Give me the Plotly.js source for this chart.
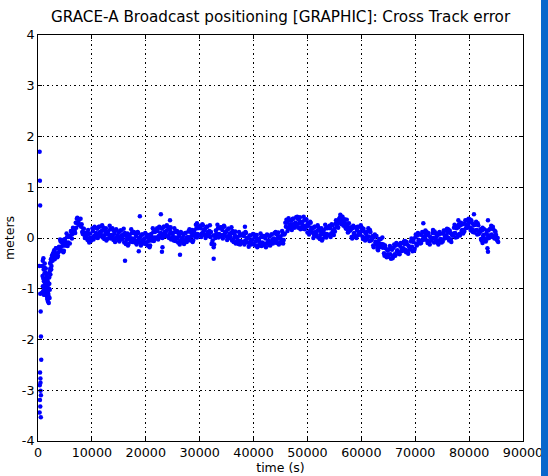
<!DOCTYPE html>
<html>
<head>
<meta charset="utf-8">
<script src="https://cdn.plot.ly/plotly-3.0.1.min.js"></script>
<style>html,body{margin:0;padding:0;overflow:hidden;}body{background:linear-gradient(to right,#fff 0,#fff 541px,#0867cc 541px,#0867cc 548px);}#wrap{position:relative;width:548px;height:476px;}#chart{width:548px;height:476px;}#bar{position:absolute;left:541px;top:0;width:7px;height:476px;background:#0867cc;z-index:10;}</style>
</head>
<body>
<div id="wrap"><div id="chart"></div><div id="bar"></div></div>
<script>
// Early convergence points (time s, cross-track error m)
var earlyT = [300,350,400,250,420,500,550,600,380,450,320,480,360,420,300,520,460,540,
  800,850,900,950,1000,1050,1100,1150,1200,1250,1300,1350,1400,1450,1500,1550,1600,1650,1700,1750,1800,1850,1900,1950,2000,2050,2100,2150,2200,2250,2300,2400,2500,2600,2700,2800,2900,
  750,880,980,1080,1180,1280,1380,1480,1580,1680,1780,1880,1980,2080,2180,2280,2350,2450,2550,2650,2750,2850,2950];
var earlyE = [1.70,1.13,0.64,-0.55,-1.10,-1.45,-1.94,-2.40,-2.65,-2.77,-2.90,-3.01,-3.19,-3.32,-3.44,-3.53,-2.85,-3.10,
  -0.55,-0.75,-0.95,-1.05,-0.40,-0.62,-0.85,-1.00,-0.70,-0.50,-0.90,-1.12,-0.80,-0.60,-1.05,-0.95,-0.75,-1.15,-1.20,-0.98,-0.85,-1.25,-1.10,-0.70,-1.28,-1.00,-0.90,-1.18,-0.65,-0.50,-0.72,-0.42,-0.55,-0.35,-0.45,-0.30,-0.38,
  -1.08,-0.45,-0.80,-1.12,-0.58,-0.98,-0.68,-0.88,-1.10,-0.82,-1.05,-0.92,-1.15,-0.78,-1.02,-0.60,-0.48,-0.62,-0.40,-0.44,-0.32,-0.40,-0.28];

// Main time series, first sample set
var mainT = [
 3000,3200,3400,3600,3800, 4000,4200,4400,4600,4800, 5000,5200,5400,5600,5800, 6000,6200,6400,6600,6800,
 7000,7200,7400,7600,7800, 8000,8200,8400,8600,8800, 9000,9200,9400,9600,9800, 10000,10200,10400,10600,10800,
 11000,11200,11400,11600,11800, 12000,12200,12400,12600,12800, 13000,13200,13400,13600,13800, 14000,14200,14400,14600,14800,
 15000,15200,15400,15600,15800, 16000,16200,16400,16600,16800, 17000,17200,17400,17600,17800, 18000,18200,18400,18600,18800,
 19000,19200,19400,19600,19800, 20000,20200,20400,20600,20800, 21000,21200,21400,21600,21800, 22000,22200,22400,22600,22800,
 23000,23200,23400,23600,23800, 24000,24200,24400,24600,24800, 25000,25200,25400,25600,25800, 26000,26200,26400,26600,26800,
 27000,27200,27400,27600,27800, 28000,28200,28400,28600,28800, 29000,29200,29400,29600,29800, 30000,30200,30400,30600,30800,
 31000,31200,31400,31600,31800, 32000,32200,32400,32600,32800, 33000,33200,33400,33600,33800, 34000,34200,34400,34600,34800,
 35000,35200,35400,35600,35800, 36000,36200,36400,36600,36800, 37000,37200,37400,37600,37800, 38000,38200,38400,38600,38800,
 39000,39200,39400,39600,39800, 40000,40200,40400,40600,40800, 41000,41200,41400,41600,41800, 42000,42200,42400,42600,42800,
 43000,43200,43400,43600,43800, 44000,44200,44400,44600,44800, 45000,45200,45400,45600,45800, 46000,46200,46400,46600,46800,
 47000,47200,47400,47600,47800, 48000,48200,48400,48600,48800, 49000,49200,49400,49600,49800, 50000,50200,50400,50600,50800,
 51000,51200,51400,51600,51800, 52000,52200,52400,52600,52800, 53000,53200,53400,53600,53800, 54000,54200,54400,54600,54800,
 55000,55200,55400,55600,55800, 56000,56200,56400,56600,56800, 57000,57200,57400,57600,57800, 58000,58200,58400,58600,58800,
 59000,59200,59400,59600,59800, 60000,60200,60400,60600,60800, 61000,61200,61400,61600,61800, 62000,62200,62400,62600,62800,
 63000,63200,63400,63600,63800, 64000,64200,64400,64600,64800, 65000,65200,65400,65600,65800, 66000,66200,66400,66600,66800,
 67000,67200,67400,67600,67800, 68000,68200,68400,68600,68800, 69000,69200,69400,69600,69800, 70000,70200,70400,70600,70800,
 71000,71200,71400,71600,71800, 72000,72200,72400,72600,72800, 73000,73200,73400,73600,73800, 74000,74200,74400,74600,74800,
 75000,75200,75400,75600,75800, 76000,76200,76400,76600,76800, 77000,77200,77400,77600,77800, 78000,78200,78400,78600,78800,
 79000,79200,79400,79600,79800, 80000,80200,80400,80600,80800, 81000,81200,81400,81600,81800, 82000,82200,82400,82600,82800,
 83000,83200,83400,83600,83800, 84000,84200,84400,84600,84800, 85000,85200,85400
];
var mainE = [
 -0.24,-0.35,-0.20,-0.38,-0.28, -0.22,-0.07,-0.17,-0.04,-0.25, -0.02,-0.15,0.02,-0.09,0.04, 0.02,0.10,0.08,0.18,0.15,
 0.30,0.38,0.28,0.36,0.25, 0.22,0.12,0.18,0.06,0.10, 0.05,-0.04,0.08,0.00,-0.06, 0.01,0.14,0.04,0.20,0.10,
 0.18,0.07,0.22,0.04,0.14, 0.01,0.16,0.06,0.19,-0.02, 0.13,0.00,0.17,0.06,0.19, -0.04,0.09,-0.01,0.15,0.05,
 0.11,0.00,0.15,-0.03,0.07, -0.09,0.06,-0.04,0.09,-0.12, 0.06,-0.07,0.10,-0.01,0.12, -0.09,0.04,-0.06,0.10,0.00,
 0.03,-0.08,0.07,-0.11,-0.01, -0.12,0.03,-0.07,0.06,-0.15, 0.08,-0.05,0.12,0.01,0.14, 0.01,0.14,0.04,0.20,0.10,
 0.18,0.07,0.22,0.04,0.14, 0.03,0.18,0.08,0.21,0.00, 0.08,-0.05,0.12,0.01,0.14, -0.09,0.04,-0.06,0.10,0.00,
 0.06,-0.05,0.10,-0.08,0.02, -0.02,0.13,0.03,0.16,-0.05, 0.15,0.02,0.19,0.08,0.21, 0.06,0.19,0.09,0.25,0.15,
 0.18,0.07,0.22,0.04,0.14, 0.02,-0.12,-0.05,-0.18,0.05, 0.15,0.02,0.19,0.08,0.21, 0.03,0.16,0.06,0.22,0.12,
 0.14,0.03,0.18,0.00,0.10, -0.05,0.10,0.00,0.13,-0.08, 0.01,-0.12,0.05,-0.06,0.07, -0.09,0.04,-0.06,0.10,0.00,
 0.01,-0.10,0.05,-0.13,-0.03, -0.12,0.03,-0.07,0.06,-0.15, -0.02,-0.15,0.02,-0.09,0.04, -0.14,-0.01,-0.11,0.05,-0.05,
 0.03,-0.08,0.07,-0.11,-0.01, -0.07,0.08,-0.02,0.11,-0.10, 0.03,-0.10,0.07,-0.04,0.09, 0.22,0.30,0.20,0.35,0.27,
 0.34,0.23,0.38,0.20,0.30, 0.23,0.38,0.28,0.41,0.20, 0.31,0.18,0.35,0.24,0.37, 0.11,0.24,0.14,0.30,0.20,
 0.18,0.07,0.22,0.04,0.14, 0.01,0.16,0.06,0.19,-0.02, 0.15,0.02,0.19,0.08,0.21, 0.06,0.19,0.09,0.25,0.15,
 0.18,0.28,0.22,0.33,0.30, 0.40,0.33,0.42,0.36,0.30, 0.28,0.18,0.24,0.12,0.20, 0.15,0.02,0.19,0.08,0.21,
 0.03,0.16,0.06,0.22,0.12, 0.14,0.03,0.18,0.00,0.10, -0.02,0.13,0.03,0.16,-0.05, -0.02,-0.15,0.02,-0.09,0.04,
 -0.21,-0.08,-0.18,-0.02,-0.12, -0.19,-0.30,-0.15,-0.33,-0.23, -0.37,-0.22,-0.32,-0.19,-0.40, -0.19,-0.32,-0.15,-0.26,-0.13,
 -0.29,-0.16,-0.26,-0.10,-0.20, -0.12,-0.23,-0.08,-0.26,-0.16, -0.22,-0.07,-0.17,-0.04,-0.25, 0.01,-0.12,0.05,-0.06,0.07,
 -0.07,0.06,-0.04,0.12,0.02, 0.06,-0.05,0.10,-0.08,0.02, -0.05,0.10,0.00,0.13,-0.08, 0.03,-0.10,0.07,-0.04,0.09,
 -0.04,0.09,-0.01,0.15,0.05, 0.11,0.00,0.15,-0.03,0.07, 0.05,0.20,0.10,0.23,0.02, 0.21,0.08,0.25,0.14,0.27,
 0.16,0.29,0.19,0.35,0.25, 0.31,0.20,0.35,0.17,0.27, 0.11,0.26,0.16,0.29,0.08, 0.11,-0.02,0.15,0.04,0.17,
 -0.04,0.09,-0.01,0.15,0.05, 0.18,0.07,0.22,0.04,0.14, 0.06,-0.05,-0.08
];

// Main time series, second (interleaved) sample set
var mainT2 = [
 3100,3300,3500,3700,3900, 4100,4300,4500,4700,4900, 5100,5300,5500,5700,5900, 6100,6300,6500,6700,6900,
 7100,7300,7500,7700,7900, 8100,8300,8500,8700,8900, 9100,9300,9500,9700,9900, 10100,10300,10500,10700,10900,
 11100,11300,11500,11700,11900, 12100,12300,12500,12700,12900, 13100,13300,13500,13700,13900, 14100,14300,14500,14700,14900,
 15100,15300,15500,15700,15900, 16100,16300,16500,16700,16900, 17100,17300,17500,17700,17900, 18100,18300,18500,18700,18900,
 19100,19300,19500,19700,19900, 20100,20300,20500,20700,20900, 21100,21300,21500,21700,21900, 22100,22300,22500,22700,22900,
 23100,23300,23500,23700,23900, 24100,24300,24500,24700,24900, 25100,25300,25500,25700,25900, 26100,26300,26500,26700,26900,
 27100,27300,27500,27700,27900, 28100,28300,28500,28700,28900, 29100,29300,29500,29700,29900, 30100,30300,30500,30700,30900,
 31100,31300,31500,31700,31900, 32100,32300,32500,32700,32900, 33100,33300,33500,33700,33900, 34100,34300,34500,34700,34900,
 35100,35300,35500,35700,35900, 36100,36300,36500,36700,36900, 37100,37300,37500,37700,37900, 38100,38300,38500,38700,38900,
 39100,39300,39500,39700,39900, 40100,40300,40500,40700,40900, 41100,41300,41500,41700,41900, 42100,42300,42500,42700,42900,
 43100,43300,43500,43700,43900, 44100,44300,44500,44700,44900, 45100,45300,45500,45700,45900, 46100,46300,46500,46700,46900,
 47100,47300,47500,47700,47900, 48100,48300,48500,48700,48900, 49100,49300,49500,49700,49900, 50100,50300,50500,50700,50900,
 51100,51300,51500,51700,51900, 52100,52300,52500,52700,52900, 53100,53300,53500,53700,53900, 54100,54300,54500,54700,54900,
 55100,55300,55500,55700,55900, 56100,56300,56500,56700,56900, 57100,57300,57500,57700,57900, 58100,58300,58500,58700,58900,
 59100,59300,59500,59700,59900, 60100,60300,60500,60700,60900, 61100,61300,61500,61700,61900, 62100,62300,62500,62700,62900,
 63100,63300,63500,63700,63900, 64100,64300,64500,64700,64900, 65100,65300,65500,65700,65900, 66100,66300,66500,66700,66900,
 67100,67300,67500,67700,67900, 68100,68300,68500,68700,68900, 69100,69300,69500,69700,69900, 70100,70300,70500,70700,70900,
 71100,71300,71500,71700,71900, 72100,72300,72500,72700,72900, 73100,73300,73500,73700,73900, 74100,74300,74500,74700,74900,
 75100,75300,75500,75700,75900, 76100,76300,76500,76700,76900, 77100,77300,77500,77700,77900, 78100,78300,78500,78700,78900,
 79100,79300,79500,79700,79900, 80100,80300,80500,80700,80900, 81100,81300,81500,81700,81900, 82100,82300,82500,82700,82900,
 83100,83300,83500,83700,83900, 84100,84300,84500,84700,84900, 85100,85300
];
var mainE2 = [
 -0.42,-0.20,-0.30,-0.35,-0.17, -0.03,-0.25,-0.10,-0.28,-0.15, -0.08,0.09,-0.16,0.02,-0.11, 0.14,-0.01,0.20,0.12,0.10,
 0.20,0.40,0.30,0.26,0.38, 0.27,0.08,0.18,0.00,0.10, -0.01,0.16,-0.09,0.09,-0.04, 0.19,-0.03,0.22,0.08,0.01,
 0.00,0.22,0.12,0.07,0.25, 0.20,-0.02,0.13,-0.05,0.08, 0.07,0.24,-0.01,0.17,0.04, 0.14,-0.08,0.17,0.03,-0.04,
 -0.07,0.15,0.05,0.00,0.18, 0.10,-0.12,0.03,-0.15,-0.02, 0.00,0.17,-0.08,0.10,-0.03, 0.09,-0.13,0.12,-0.02,-0.09,
 -0.15,0.07,-0.03,-0.08,0.10, 0.07,-0.15,0.00,-0.18,-0.05, 0.02,0.19,-0.06,0.12,-0.01, 0.19,-0.03,0.22,0.08,0.01,
 0.00,0.22,0.12,0.07,0.25, 0.22,0.00,0.15,-0.03,0.10, 0.02,0.19,-0.06,0.12,-0.01, 0.09,-0.13,0.12,-0.02,-0.09,
 -0.12,0.10,0.00,-0.05,0.13, 0.17,-0.05,0.10,-0.08,0.05, 0.09,0.26,0.01,0.19,0.06, 0.24,0.02,0.27,0.13,0.06,
 0.00,0.22,0.12,0.07,0.25, 0.12,-0.10,0.05,-0.13,0.00, 0.09,0.26,0.01,0.19,0.06, 0.21,-0.01,0.24,0.10,0.03,
 -0.04,0.18,0.08,0.03,0.21, 0.14,-0.08,0.07,-0.11,0.02, -0.05,0.12,-0.13,0.05,-0.08, 0.09,-0.13,0.12,-0.02,-0.09,
 -0.17,0.05,-0.05,-0.10,0.08, 0.07,-0.15,0.00,-0.18,-0.05, -0.08,0.09,-0.16,0.02,-0.11, 0.04,-0.18,0.07,-0.07,-0.14,
 -0.15,0.07,-0.03,-0.08,0.10, 0.12,-0.10,0.05,-0.13,0.00, -0.03,0.14,-0.11,0.07,0.30, 0.36,0.14,0.39,0.25,0.18,
 0.16,0.38,0.28,0.23,0.41, 0.42,0.20,0.35,0.17,0.30, 0.25,0.42,0.17,0.35,0.22, 0.29,0.07,0.32,0.18,0.11,
 0.00,0.22,0.12,0.07,0.25, 0.20,-0.02,0.13,-0.05,0.08, 0.09,0.26,0.01,0.19,0.06, 0.24,0.02,0.27,0.13,0.06,
 0.13,0.35,0.25,0.20,0.38, 0.46,0.27,0.42,0.24,0.37, 0.19,0.36,0.11,0.29,0.16, 0.21,-0.01,0.24,0.10,0.03,
 0.00,0.22,0.12,0.07,0.25, 0.20,-0.02,0.13,-0.05,0.08, 0.02,0.19,-0.06,0.12,-0.01, 0.04,-0.18,0.07,-0.07,-0.14,
 -0.24,-0.02,-0.12,-0.17,0.01, -0.13,-0.35,-0.20,-0.38,-0.25, -0.33,-0.16,-0.41,-0.23,-0.36, -0.13,-0.35,-0.10,-0.24,-0.31,
 -0.32,-0.10,-0.20,-0.25,-0.07, -0.06,-0.28,-0.13,-0.31,-0.18, -0.18,-0.01,-0.26,-0.08,-0.21, 0.07,-0.15,0.10,-0.04,-0.11,
 -0.10,0.12,0.02,-0.03,0.15, 0.12,-0.10,0.05,-0.13,0.00, -0.01,0.16,-0.09,0.09,-0.04, 0.09,-0.13,0.12,-0.02,-0.09,
 -0.07,0.15,0.05,0.00,0.18, 0.17,-0.05,0.10,-0.08,0.05, 0.09,0.26,0.01,0.19,0.06, 0.27,0.05,0.30,0.16,0.09,
 0.13,0.35,0.25,0.20,0.38, 0.37,0.15,0.30,0.12,0.25, 0.15,0.32,0.07,0.25,0.12, 0.17,-0.05,0.20,0.06,-0.01,
 -0.07,0.15,0.05,0.00,0.18, 0.24,0.02,0.17,-0.01,0.12, -0.02,0.00
];

// Isolated outlying samples
var outT = [16150,18900,18700,22800,24500,23000,23100,26350,29500,32600,38400,71500,80900,83500,83500,83400,78000,82500];
var outE = [-0.45,0.43,-0.26,0.47,0.35,-0.27,-0.18,-0.33,0.29,-0.41,0.22,0.29,0.47,0.35,-0.27,-0.20,0.35,-0.10];

var xTicks = [0,10000,20000,30000,40000,50000,60000,70000,80000,90000];
var xTickText = ['0','10000','20000','30000','40000','50000','60000','70000','80000','90000'];
var yTicks = [-4,-3,-2,-1,0,1,2,3,4];
var yTickText = ['-4','-3','-2','-1','0','1','2','3','4'];

var allT = earlyT.concat(mainT, mainT2, outT);
var allE = earlyE.concat(mainE, mainE2, outE);

var font = 'DejaVu Sans, sans-serif';
var trace = {
  x: allT, y: allE, type: 'scatter', mode: 'markers',
  marker: {color: '#0000ff', size: 4.5, line: {width: 0}},
  hoverinfo: 'skip', showlegend: false
};

var axisCommon = {
  showline: true, linecolor: '#000', linewidth: 1, mirror: 'ticks',
  ticks: 'inside', ticklen: 4, tickcolor: '#000', tickwidth: 1,
  showgrid: true, gridcolor: '#000', gridwidth: 1, griddash: '1.5px,3px',
  zeroline: false, tickfont: {family: font, size: 12.7, color: '#000'},
  tickmode: 'array'
};

var layout = {
  width: 548, height: 476,
  margin: {l: 38, r: 25, t: 35, b: 35},
  paper_bgcolor: 'rgba(0,0,0,0)', plot_bgcolor: '#fff',
  title: {text: 'GRACE-A Broadcast positioning [GRAPHIC]: Cross Track error',
          font: {family: font, size: 15.2, color: '#000'},
          x: 0.512, xanchor: 'center', y: 0.964, yanchor: 'middle'},
  xaxis: Object.assign({}, axisCommon, {
    range: [0, 90000], tickvals: xTicks, ticktext: xTickText,
    title: {text: 'time (s)', font: {family: font, size: 12.5, color: '#000'}, standoff: 3}
  }),
  yaxis: Object.assign({}, axisCommon, {
    range: [-4, 4], tickvals: yTicks, ticktext: yTickText,
    title: {text: 'meters', font: {family: font, size: 12.5, color: '#000'}, standoff: 4}
  })
};

Plotly.newPlot('chart', [trace], layout, {displayModeBar: false, staticPlot: true});
</script>
</body>
</html>
